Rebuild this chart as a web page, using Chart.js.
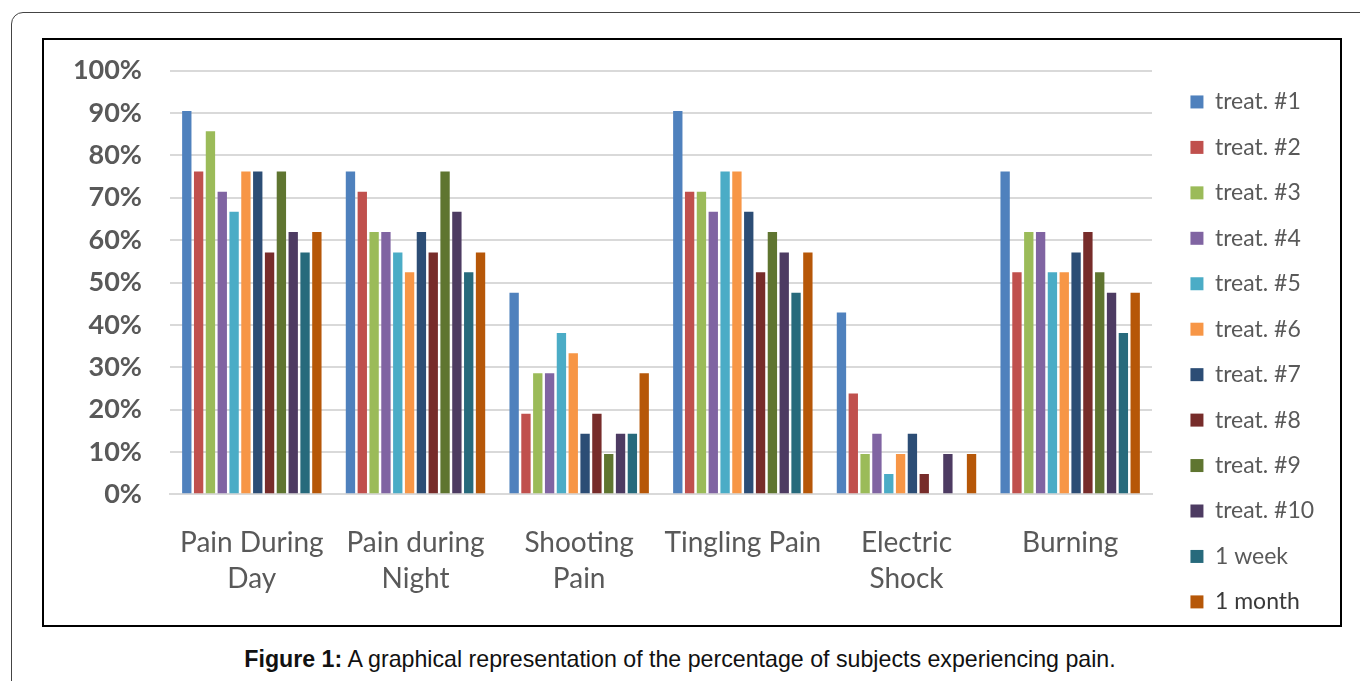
<!DOCTYPE html>
<html>
<head>
<meta charset="utf-8">
<script src="https://cdn.jsdelivr.net/npm/chart.js@4"></script>
<style>
  body { margin: 0; background: #fff; width: 1360px; height: 681px; overflow: hidden; position: relative; }
  #frame { position: absolute; left: 11px; top: 12px; width: 1370px; height: 720px; border: 1px solid #444; border-radius: 12px; }
  #box { position: absolute; left: 42px; top: 38px; width: 1296px; height: 585px; border: 2px solid #000; }
  #box canvas { display: block; }
  #caption { position: absolute; left: 0; width: 1360px; top: 646px; text-align: center; font-family: "Liberation Sans", Arial, sans-serif; font-size: 23.2px; color: #111; }
</style>
</head>
<body>
<div id="frame"></div>
<div id="box"><canvas id="chart" width="1296" height="585"></canvas></div>
<div id="caption"><b>Figure 1:</b> A graphical representation of the percentage of subjects experiencing pain.</div>
<script>
const categories = [["Pain During", "Day"], ["Pain during", "Night"], ["Shooting", "Pain"], "Tingling Pain", ["Electric", "Shock"], "Burning"];
const seriesNames = ["treat. #1", "treat. #2", "treat. #3", "treat. #4", "treat. #5", "treat. #6", "treat. #7", "treat. #8", "treat. #9", "treat. #10", "1 week", "1 month"];
const seriesColors = ["#4F81BD", "#C0504D", "#9BBB59", "#8064A2", "#4BACC6", "#F79646", "#2C4D75", "#772C2A", "#5F7530", "#4D3B62", "#276A7C", "#B65708"];

// percent per category, one array per series
const treat1 = [90.5, 76.2, 47.6, 90.5, 42.9, 76.2];
const treat2 = [76.2, 71.4, 19.0, 71.4, 23.8, 52.4];
const treat3 = [85.7, 61.9, 28.6, 71.4, 9.5, 61.9];
const treat4 = [71.4, 61.9, 28.6, 66.7, 14.3, 61.9];
const treat5 = [66.7, 57.1, 38.1, 76.2, 4.8, 52.4];
const treat6 = [76.2, 52.4, 33.3, 76.2, 9.5, 52.4];
const treat7 = [76.2, 61.9, 14.3, 66.7, 14.3, 57.1];
const treat8 = [57.1, 57.1, 19.0, 52.4, 4.8, 61.9];
const treat9 = [76.2, 76.2, 9.5, 61.9, 0, 52.4];
const treat10 = [61.9, 66.7, 14.3, 57.1, 9.5, 47.6];
const week1 = [57.1, 52.4, 14.3, 47.6, 0, 38.1];
const month1 = [61.9, 57.1, 28.6, 57.1, 9.5, 47.6];
const seriesValues = [treat1, treat2, treat3, treat4, treat5, treat6, treat7, treat8, treat9, treat10, week1, month1];

const yTicks = [0, 10, 20, 30, 40, 50, 60, 70, 80, 90, 100];

// fixed legend column on the right, one column for all 12 items
const legendSpot = {
  id: "legendSpot",
  afterInit(chart) {
    const lg = chart.legend;
    const fit = lg.fit.bind(lg);
    lg.fit = function () {
      const h = this.maxHeight;
      this.maxHeight = 2000;
      fit();
      this.maxHeight = h;
      this.width = 188;
      this.height = h;
    };
  },
  afterLayout(chart) {
    const lg = chart.legend;
    lg.left = 1124;
    lg.right = 1296;
    lg.top = 28;
    lg.bottom = 700;
  }
};

new Chart(document.getElementById("chart"), {
  type: "bar",
  data: {
    labels: categories,
    datasets: seriesNames.map((name, i) => ({
      label: name,
      data: seriesValues[i],
      backgroundColor: seriesColors[i],
      borderWidth: 0,
      categoryPercentage: 0.867,
      barPercentage: 0.79
    }))
  },
  options: {
    responsive: false,
    animation: false,
    layout: { padding: { top: 30.7, right: 0, bottom: 0, left: 0 } },
    plugins: {
      tooltip: { enabled: false },
      legend: {
        position: "right",
        align: "start",
        labels: {
          boxWidth: 13,
          boxHeight: 13,
          padding: 22.45,
          color: "#595959",
          font: { family: "Lato", size: 23, lineHeight: 1 },
          generateLabels(chart) {
            const items = Chart.defaults.plugins.legend.labels.generateLabels(chart);
            items.forEach(it => { it.lineWidth = 0; if (it.text === "1 month") it.fontColor = "#3a3a3a"; });
            return items;
          }
        }
      }
    },
    scales: {
      x: {
        grid: { display: false, drawTicks: false },
        border: { color: "#d9d9d9", width: 2 },
        ticks: {
          padding: 30,
          maxRotation: 0,
          autoSkip: false,
          color: "#595959",
          font: { family: "Lato", size: 28, lineHeight: 1.3 }
        },
        afterFit(scale) { scale.height = 130.7; }
      },
      y: {
        min: 0,
        max: 100,
        afterBuildTicks(scale) { scale.ticks = yTicks.map(v => ({ value: v })); },
        grid: { color: "#d9d9d9", lineWidth: 2, drawTicks: false },
        border: { display: false },
        ticks: {
          padding: 28,
          color: "#595959",
          font: { family: "Lato", size: 27, weight: "bold" },
          callback: v => v + "%"
        },
        afterFit(scale) {
          scale.width = 126;
          scale.paddingTop = 0;
          scale.paddingBottom = 0;
        }
      }
    }
  },
  plugins: [legendSpot]
});
</script>
</body>
</html>
